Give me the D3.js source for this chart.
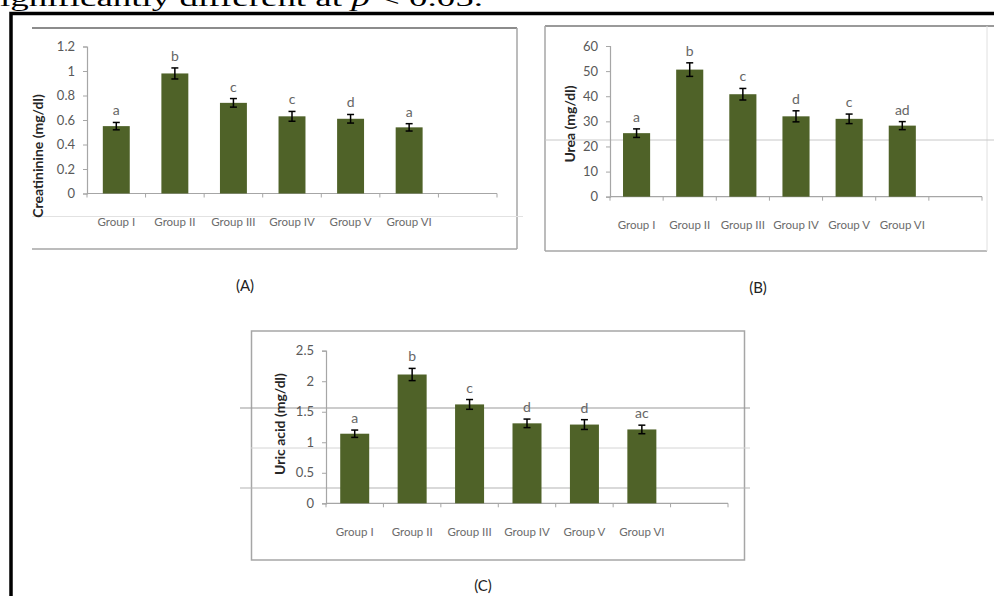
<!DOCTYPE html>
<html><head><meta charset="utf-8">
<script src="https://cdn.jsdelivr.net/npm/d3@7/dist/d3.min.js"></script>
<style>html,body{margin:0;padding:0;background:#fff}svg{display:block}</style>
</head><body><svg id="chart" width="994" height="596"></svg>
<script>
// ---------- data ----------
const groups = ["Group I", "Group II", "Group III", "Group IV", "Group V", "Group VI"];
const xSlots = groups.concat([""]); // Excel chart keeps an empty 7th category

const creatinineValues = [0.55, 0.98, 0.74, 0.63, 0.61, 0.54];
const creatinineErrors = [0.03, 0.045, 0.035, 0.04, 0.035, 0.03];
const creatinineLetters = ["a", "b", "c", "c", "d", "a"];
const creatinineTicks = [0, 0.2, 0.4, 0.6, 0.8, 1, 1.2];
const creatinineTickLabels = ["0", "0.2", "0.4", "0.6", "0.8", "1", "1.2"];

const ureaValues = [25.3, 50.6, 40.8, 32, 31, 28.3];
const ureaErrors = [1.7, 2.7, 2.3, 2.2, 1.9, 1.6];
const ureaLetters = ["a", "b", "c", "d", "c", "ad"];
const ureaTicks = [0, 10, 20, 30, 40, 50, 60];
const ureaTickLabels = ["0", "10", "20", "30", "40", "50", "60"];

const uricValues = [1.14, 2.11, 1.62, 1.31, 1.29, 1.21];
const uricErrors = [0.06, 0.1, 0.08, 0.07, 0.08, 0.07];
const uricLetters = ["a", "b", "c", "d", "d", "ac"];
const uricTicks = [0, 0.5, 1, 1.5, 2, 2.5];
const uricTickLabels = ["0", "0.5", "1", "1.5", "2", "2.5"];

// ---------- drawing ----------
const svg = d3.select("#chart");
const FONT = "Lato, 'Open Sans', sans-serif";
const BAR = "#4f6228";

// header text (cut at top of the page, as in the source scan)
const head = svg.append("text")
  .attr("x", 0).attr("y", 6)
  .attr("font-family", "'Liberation Serif', 'Times New Roman', serif")
  .attr("font-size", 23).attr("fill", "#000")
  .attr("textLength", 483).attr("lengthAdjust", "spacingAndGlyphs");
head.append("tspan").text("ignificantly different at ");
head.append("tspan").attr("font-style", "italic").text("p");
head.append("tspan").text(" < 0.05.");

// outer black frame
svg.append("rect").attr("x", 11).attr("y", 13.5).attr("width", 1000).attr("height", 600)
  .attr("fill", "none").attr("stroke", "#000").attr("stroke-width", 3.5);

function line(x1, y1, x2, y2, color, w) {
  svg.append("line").attr("x1", x1).attr("y1", y1).attr("x2", x2).attr("y2", y2)
    .attr("stroke", color).attr("stroke-width", w);
}

// panel frames (scanned boxes)
line(32, 28, 517, 28, "#8c8c8c", 2);
line(517, 28, 517, 249, "#a6a6a6", 1.5);
line(32, 249, 517, 249, "#a6a6a6", 1.5);
line(32, 216.5, 523, 216.5, "#e2e2e2", 1);

line(545, 26, 994, 26, "#9a9a9a", 1.8);
line(545, 26, 545, 251, "#a6a6a6", 1.5);
line(545, 251, 987, 251, "#a6a6a6", 1.5);
line(987, 26, 987, 251, "#e0e0e0", 1);
line(545, 140, 994, 140, "#c8c8c8", 1);

svg.append("rect").attr("x", 251.5).attr("y", 331).attr("width", 493).attr("height", 229)
  .attr("fill", "none").attr("stroke", "#a6a6a6").attr("stroke-width", 1.5);
line(240, 408, 750, 408, "#9a9a9a", 1.2);
line(251, 448, 750, 448, "#d4d4d4", 1);
line(240, 488, 750, 488, "#b4b4b4", 1.2);

function drawPanel(cfg) {
  const g = svg.append("g");
  const x = d3.scaleBand().domain(xSlots).range([cfg.x0, cfg.x1])
    .paddingInner(cfg.pad).paddingOuter(cfg.pad / 2);
  const y = d3.scaleLinear().domain([cfg.ticks[0], cfg.ticks[cfg.ticks.length - 1]])
    .range([cfg.yBottom, cfg.yTop]);

  // y axis
  const ya = g.append("g").attr("transform", `translate(${cfg.x0},0)`)
    .call(d3.axisLeft(y).tickValues(cfg.ticks).tickSize(4).tickPadding(8)
      .tickFormat((d, i) => cfg.tickLabels[i]));
  ya.select(".domain").attr("stroke", "#a6a6a6").attr("stroke-width", 1.2);
  ya.selectAll(".tick line").attr("stroke", "#a6a6a6");
  ya.selectAll(".tick text").attr("fill", "#595959").attr("font-family", FONT).attr("font-size", 13);

  // x axis with boundary ticks
  const half = (x.step() - x.bandwidth()) / 2;
  g.append("line").attr("x1", cfg.x0).attr("x2", cfg.x1)
    .attr("y1", y(0)).attr("y2", y(0)).attr("stroke", "#a6a6a6").attr("stroke-width", 1.2);
  const bounds = xSlots.map(d => x(d) - half).concat([x(xSlots[xSlots.length - 1]) + x.bandwidth() + half]);
  g.selectAll(".xt").data(bounds).join("line")
    .attr("x1", d => d).attr("x2", d => d).attr("y1", y(0)).attr("y2", y(0) + 4)
    .attr("stroke", "#a6a6a6");

  const rows = groups.map((grp, i) => ({ grp, v: cfg.values[i], e: cfg.errors[i], l: cfg.letters[i] }));

  // bars
  g.selectAll(".bar").data(rows).join("rect")
    .attr("x", d => x(d.grp)).attr("width", x.bandwidth())
    .attr("y", d => y(d.v)).attr("height", d => y(0) - y(d.v))
    .attr("fill", BAR);

  // error bars
  const eb = g.selectAll(".eb").data(rows).join("g")
    .attr("transform", d => `translate(${x(d.grp) + x.bandwidth() / 2},0)`);
  eb.append("line").attr("y1", d => y(d.v - d.e)).attr("y2", d => y(d.v + d.e))
    .attr("stroke", "#000").attr("stroke-width", 1.5);
  eb.append("line").attr("x1", -3.5).attr("x2", 3.5).attr("y1", d => y(d.v + d.e)).attr("y2", d => y(d.v + d.e))
    .attr("stroke", "#000").attr("stroke-width", 1.5);
  eb.append("line").attr("x1", -3.5).attr("x2", 3.5).attr("y1", d => y(d.v - d.e)).attr("y2", d => y(d.v - d.e))
    .attr("stroke", "#000").attr("stroke-width", 1.5);

  // significance letters
  g.selectAll(".lt").data(rows).join("text")
    .attr("x", d => x(d.grp) + x.bandwidth() / 2).attr("y", d => y(d.v + d.e) - 7)
    .attr("text-anchor", "middle").attr("fill", "#666")
    .attr("font-family", FONT).attr("font-size", 14).text(d => d.l);

  // category labels
  g.selectAll(".cl").data(groups).join("text")
    .attr("x", d => x(d) + x.bandwidth() / 2).attr("y", cfg.labelY)
    .attr("text-anchor", "middle").attr("dominant-baseline", "central")
    .attr("fill", "#6b6b6b").attr("font-family", FONT).attr("font-size", 11.5).text(d => d);

  // y title
  g.append("text").attr("transform", `translate(${cfg.titleX},${cfg.titleY}) rotate(-90)`)
    .attr("text-anchor", "middle").attr("dominant-baseline", "central")
    .attr("fill", "#262626").attr("font-family", FONT).attr("font-weight", "bold")
    .attr("font-size", 14).text(cfg.title);

  // caption
  g.append("text").attr("x", cfg.capX).attr("y", cfg.capY)
    .attr("text-anchor", "middle").attr("dominant-baseline", "central")
    .attr("fill", "#222").attr("font-family", FONT).attr("font-size", 15).text(cfg.caption);
}

drawPanel({ values: creatinineValues, errors: creatinineErrors, letters: creatinineLetters,
  ticks: creatinineTicks, tickLabels: creatinineTickLabels, title: "Creatininine (mg/dl)",
  x0: 87, x1: 497, yBottom: 193.5, yTop: 46.5, pad: 0.54, labelY: 221.5,
  titleX: 37, titleY: 156, capX: 245, capY: 285, caption: "(A)" });

drawPanel({ values: ureaValues, errors: ureaErrors, letters: ureaLetters,
  ticks: ureaTicks, tickLabels: ureaTickLabels, title: "Urea (mg/dl)",
  x0: 610, x1: 982, yBottom: 196.7, yTop: 46, pad: 0.49, labelY: 224,
  titleX: 569, titleY: 124, capX: 758, capY: 286.5, caption: "(B)" });

drawPanel({ values: uricValues, errors: uricErrors, letters: uricLetters,
  ticks: uricTicks, tickLabels: uricTickLabels, title: "Uric acid (mg/dl)",
  x0: 326, x1: 728, yBottom: 503.3, yTop: 350.7, pad: 0.495, labelY: 531.7,
  titleX: 279, titleY: 424, capX: 483, capY: 585, caption: "(C)" });
</script>
</body></html>
